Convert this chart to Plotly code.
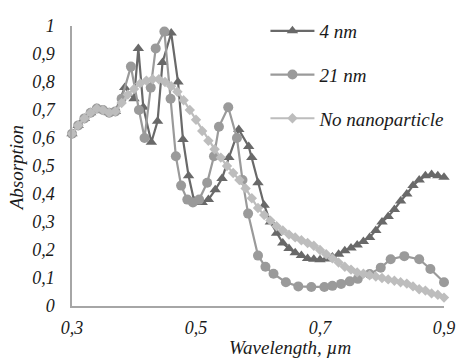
import plotly.graph_objects as go

# Absorption spectra: 4 nm particles, 21 nm particles and a bare reference
wl_4nm = [0.30, 0.31, 0.32, 0.33, 0.34, 0.35, 0.36, 0.37, 0.385, 0.40, 0.407, 0.415,
          0.428, 0.438, 0.446, 0.46, 0.471, 0.479, 0.488, 0.497, 0.51, 0.52, 0.531,
          0.542, 0.553, 0.569, 0.585, 0.59, 0.60, 0.61, 0.62, 0.63, 0.64, 0.65, 0.66,
          0.67, 0.68, 0.69, 0.70, 0.71, 0.72, 0.73, 0.74, 0.75, 0.76, 0.77, 0.78,
          0.79, 0.80, 0.81, 0.82, 0.83, 0.84, 0.85, 0.86, 0.87, 0.88, 0.89, 0.90]
abs_4nm = [0.615, 0.645, 0.67, 0.69, 0.705, 0.70, 0.69, 0.695, 0.78, 0.74, 0.92, 0.71,
           0.585, 0.66, 0.87, 0.975, 0.80, 0.595, 0.465, 0.375, 0.37, 0.38, 0.415,
           0.455, 0.53, 0.63, 0.57, 0.53, 0.44, 0.36, 0.30, 0.26, 0.225, 0.205, 0.19,
           0.18, 0.17, 0.167, 0.165, 0.168, 0.175, 0.185, 0.197, 0.207, 0.218, 0.23,
           0.245, 0.27, 0.30, 0.32, 0.345, 0.375, 0.40, 0.43, 0.45, 0.465, 0.47,
           0.465, 0.46]

wl_21nm = [0.30, 0.31, 0.32, 0.33, 0.34, 0.35, 0.36, 0.37, 0.38, 0.395, 0.408, 0.417,
           0.427, 0.435, 0.449, 0.459, 0.4675, 0.476, 0.486, 0.495, 0.505, 0.518,
           0.529, 0.537, 0.552, 0.566, 0.575, 0.584, 0.60, 0.612, 0.625, 0.645, 0.665,
           0.686, 0.707, 0.72, 0.734, 0.748, 0.761, 0.78, 0.798, 0.814, 0.836, 0.86,
           0.878, 0.90]
abs_21nm = [0.615, 0.645, 0.67, 0.69, 0.705, 0.70, 0.69, 0.695, 0.74, 0.855, 0.70, 0.60,
            0.78, 0.92, 0.98, 0.74, 0.535, 0.43, 0.38, 0.37, 0.38, 0.44,
            0.535, 0.64, 0.71, 0.60, 0.45, 0.33, 0.18, 0.14, 0.115, 0.085, 0.07,
            0.068, 0.068, 0.072, 0.079, 0.088, 0.097, 0.114, 0.137, 0.167, 0.178, 0.167,
            0.132, 0.085]

wl_bare = [0.30, 0.31, 0.32, 0.33, 0.34, 0.35, 0.36, 0.37, 0.38, 0.39, 0.40, 0.41,
           0.42, 0.43, 0.44, 0.45, 0.46, 0.47, 0.48, 0.49, 0.50, 0.51, 0.52, 0.53,
           0.54, 0.55, 0.56, 0.57, 0.58, 0.59, 0.60, 0.61, 0.62, 0.63, 0.64, 0.65,
           0.66, 0.67, 0.68, 0.69, 0.70, 0.71, 0.72, 0.73, 0.74, 0.75, 0.76, 0.77,
           0.78, 0.79, 0.80, 0.81, 0.82, 0.83, 0.84, 0.85, 0.86, 0.87, 0.88, 0.89, 0.90]
abs_bare = [0.615, 0.645, 0.67, 0.69, 0.705, 0.70, 0.69, 0.695, 0.725, 0.755, 0.775, 0.795,
            0.805, 0.81, 0.81, 0.80, 0.785, 0.765, 0.735, 0.70, 0.665, 0.625, 0.59, 0.56,
            0.53, 0.50, 0.475, 0.45, 0.42, 0.385, 0.35, 0.325, 0.305, 0.285, 0.27, 0.255,
            0.245, 0.235, 0.225, 0.215, 0.20, 0.185, 0.17, 0.155, 0.14, 0.13, 0.12, 0.115,
            0.11, 0.105, 0.10, 0.095, 0.09, 0.085, 0.08, 0.07, 0.06, 0.055, 0.045, 0.04, 0.03]

x_ticks = [0.3, 0.5, 0.7, 0.9]
x_labels = ["0,3", "0,5", "0,7", "0,9"]
y_ticks = [0, 0.1, 0.2, 0.3, 0.4, 0.5, 0.6, 0.7, 0.8, 0.9, 1.0]
y_labels = ["0", "0,1", "0,2", "0,3", "0,4", "0,5", "0,6", "0,7", "0,8", "0,9", "1"]

SERIF = "Liberation Serif, Times New Roman, serif"
TEXT = "#1a1a1a"
AXIS = "#a6a6a6"


def serif(size):
    return dict(family=SERIF, size=size, color=TEXT, style="italic")


fig = go.Figure()
series = [
    ("4 nm", wl_4nm, abs_4nm, "#696969", "triangle-up", 10),
    ("21 nm", wl_21nm, abs_21nm, "#9a9a9a", "circle", 10),
    ("No nanoparticle", wl_bare, abs_bare, "#bdbdbd", "diamond", 8),
]
for name, xs, ys, color, symbol, size in series:
    fig.add_trace(go.Scatter(
        x=xs, y=ys, name=name, mode="lines+markers", legendgroup=name,
        line=dict(color=color, width=2.2),
        marker=dict(symbol=symbol, size=size, color=color),
        cliponaxis=False,
    ))

# axis titles placed as free text
fig.add_annotation(text="Wavelength, µm", xref="paper", yref="paper",
                   x=0.587, y=-0.148, xanchor="center", yanchor="middle",
                   showarrow=False, font=serif(19))
fig.add_annotation(text="Absorption", xref="paper", yref="paper",
                   x=-0.149, y=0.49, xanchor="center", yanchor="middle",
                   textangle=-90, showarrow=False, font=serif(19))

fig.update_layout(
    width=467, height=360,
    margin=dict(l=72, r=20, t=20, b=54),
    paper_bgcolor="white", plot_bgcolor="white",
    font=serif(17),
    showlegend=True,
    legend=dict(
        x=0.52, y=1.05, xanchor="left", yanchor="top",
        bgcolor="rgba(0,0,0,0)", traceorder="grouped", tracegroupgap=16,
        itemwidth=44,
        font=serif(19),
    ),
    xaxis=dict(
        range=[0.3, 0.9], tickvals=x_ticks, ticktext=x_labels,
        showline=True, linecolor=AXIS, linewidth=1.5,
        showgrid=False, zeroline=False, ticks="",
        ticklabelstandoff=5, tickfont=serif(18),
    ),
    yaxis=dict(
        range=[0, 1], tickvals=y_ticks, ticktext=y_labels,
        showline=True, linecolor=AXIS, linewidth=1.5,
        showgrid=False, zeroline=False, ticks="",
        ticklabelstandoff=12, tickfont=serif(18),
    ),
)

fig.write_html("out.html")
